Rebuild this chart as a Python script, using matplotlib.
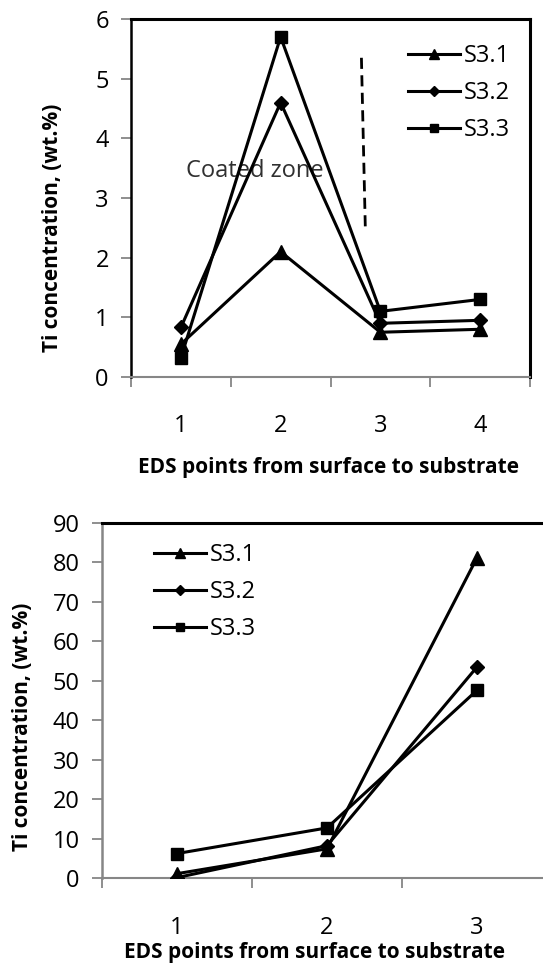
import matplotlib
matplotlib.use('Agg')
import matplotlib.pyplot as plt
import numpy as np

plt.rcParams['font.family'] = ['Open Sans', 'DejaVu Sans']

# data
series = ['S3.1', 'S3.2', 'S3.3']

pts_top = [1, 2, 3, 4]
s31_top = [0.55, 2.1, 0.75, 0.8]
s32_top = [0.83, 4.6, 0.9, 0.95]
s33_top = [0.32, 5.7, 1.1, 1.3]

pts_bot = [1, 2, 3]
s31_bot = [1.1, 7.4, 81.2]
s32_bot = [0.1, 8.2, 53.5]
s33_bot = [6.2, 12.7, 47.6]

# coated zone boundary (dashed) and its label
zone_x = [2.81, 2.85]
zone_y = [5.35, 2.43]

markers = ['^', 'D', 's']
msizes = [10, 7, 9]
GRAY = '#868686'
FS = 17

xtitle = 'EDS points from surface to substrate'
ytitle = 'Ti concentration, (wt.%)'


def style(ax, n, ymax, ystep, black_left):
    ax.set_xlim(0.5, n + 0.5)
    ax.set_ylim(0, ymax)
    ax.set_xticks(range(1, n + 1))
    ax.set_xticks(np.arange(0.5, n + 1, 1), minor=True)
    ax.tick_params(axis='x', which='major', length=0, pad=27, labelsize=FS)
    ax.tick_params(axis='x', which='minor', length=7, width=1.3, color=GRAY, direction='out')
    ax.set_yticks(np.arange(0, ymax + ystep / 2, ystep))
    ax.tick_params(axis='y', length=7, width=1.3, color=GRAY, direction='out', pad=9, labelsize=FS)
    ax.spines['top'].set_color('black')
    ax.spines['top'].set_linewidth(2.2)
    ax.spines['right'].set_color('black')
    ax.spines['right'].set_linewidth(2.2)
    ax.spines['bottom'].set_color(GRAY)
    ax.spines['bottom'].set_linewidth(1.5)
    if black_left:
        ax.spines['left'].set_color('black')
        ax.spines['left'].set_linewidth(1.8)
    else:
        ax.spines['left'].set_color(GRAY)
        ax.spines['left'].set_linewidth(1.8)


def legend(ax, x, y):
    ax.legend(loc='upper left', bbox_to_anchor=(x / 543, 1 - y / 965), bbox_transform=fig.transFigure,
              frameon=False, fontsize=FS, handlelength=2.2, handletextpad=0.15, labelspacing=0.56,
              borderpad=0, borderaxespad=0, markerscale=0.7)


fig = plt.figure(figsize=(5.43, 9.65), dpi=100)

# top chart
ax1 = fig.add_axes([131 / 543, 1 - 377 / 965, 399 / 543, 358 / 965])
for vals, lab, m, ms in zip([s31_top, s32_top, s33_top], series, markers, msizes):
    ax1.plot(pts_top, vals, color='black', lw=2.2, marker=m, ms=ms, label=lab, zorder=3)
ax1.plot(zone_x, zone_y, color='black', lw=2, linestyle=(0, (4, 2.3)), zorder=2)
ax1.text(1.74, 3.35, 'Coated zone', fontsize=FS, color='#303030', ha='center', va='baseline', zorder=1)
style(ax1, 4, 6, 1, True)
legend(ax1, 408, 44)

fig.text(328 / 543, 1 - 473 / 965, xtitle, fontsize=15, fontweight='bold', ha='center', va='baseline')
fig.text(53 / 543, 1 - 228 / 965, ytitle, fontsize=15, fontweight='bold', ha='center', va='center',
         rotation=90)

# bottom chart
ax2 = fig.add_axes([102 / 543, 1 - 878 / 965, 450 / 543, 355 / 965])
for vals, lab, m, ms in zip([s31_bot, s32_bot, s33_bot], series, markers, msizes):
    ax2.plot(pts_bot, vals, color='black', lw=2.2, marker=m, ms=ms, label=lab, zorder=3)
style(ax2, 3, 90, 10, False)
ax2.spines['right'].set_visible(False)
legend(ax2, 154, 543)

fig.text(315 / 543, 1 - 958 / 965, xtitle, fontsize=15, fontweight='bold', ha='center', va='baseline')
fig.text(23 / 543, 1 - 727 / 965, ytitle, fontsize=15, fontweight='bold', ha='center', va='center',
         rotation=90)

fig.savefig('out.png', dpi=100)
